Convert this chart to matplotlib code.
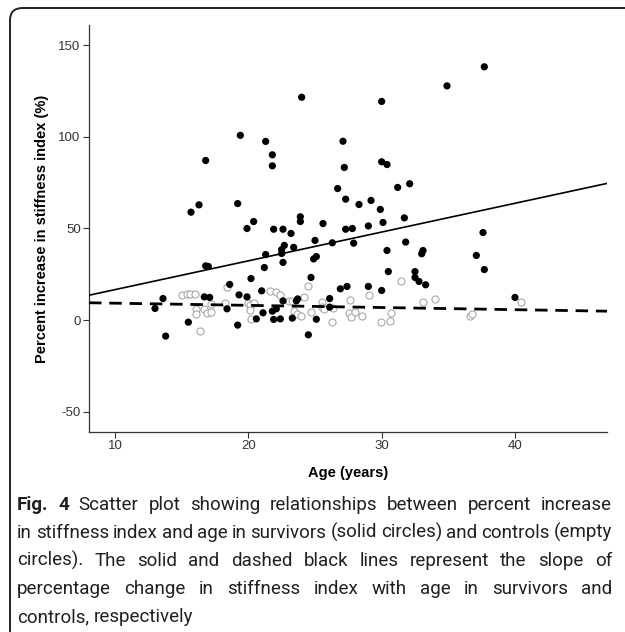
import numpy as np
import matplotlib
matplotlib.use('Agg')
import matplotlib.pyplot as plt
from matplotlib.patches import FancyBboxPatch

plt.rcParams['axes.unicode_minus'] = False

# survivors (solid circles): age, percent increase
surv_age = [24.0, 19.4, 21.3, 21.8, 21.8, 16.8, 16.3, 15.7, 19.2, 20.4,
            19.9, 21.9, 22.6, 23.2, 23.9, 23.9, 25.6, 25.0, 22.7, 37.7,
            34.9, 30.0, 27.1, 27.2, 30.0, 30.4, 26.7, 27.3, 28.3, 29.2,
            31.2, 32.1, 29.9, 27.3, 27.8, 29.0, 30.1, 31.7, 37.6, 26.3,
            27.9, 31.8, 30.4, 33.0, 33.1, 37.1, 37.7, 30.5, 32.5, 24.7,
            24.9, 25.1, 21.3, 21.2, 22.5, 22.5, 22.6, 23.4, 16.8, 17.0,
            20.2, 13.6, 13.0, 13.8, 15.5, 16.7, 17.1, 18.6, 18.4, 19.3,
            19.9, 19.2, 21.0, 21.1, 20.6, 21.8, 22.1, 21.9, 22.4, 22.6,
            23.3, 23.6, 23.7, 24.5, 25.1, 26.1, 26.1, 32.5, 32.8, 33.3,
            26.9, 27.4, 29.0, 30.0, 40.0]
surv_pct = [121.6, 100.8, 97.5, 90.2, 84.2, 87.1, 62.9, 58.9, 63.6, 53.8,
            50.0, 49.6, 49.6, 47.3, 56.4, 53.8, 52.7, 43.5, 40.8, 138.2,
            127.8, 119.3, 97.6, 83.3, 86.4, 84.9, 71.8, 66.0, 63.1, 65.3,
            72.4, 74.4, 60.4, 49.6, 50.0, 51.4, 53.3, 55.8, 47.8, 42.2,
            42.0, 42.6, 38.0, 36.2, 38.0, 35.3, 27.6, 26.5, 26.5, 23.3,
            33.4, 34.7, 35.8, 28.7, 38.5, 36.4, 31.5, 39.7, 29.6, 29.3,
            22.7, 11.8, 6.4, -8.7, -1.1, 12.7, 12.4, 19.5, 6.2, 13.8,
            12.7, -2.7, 16.0, 4.0, 0.7, 4.9, 6.2, 0.4, 0.7, 10.5,
            1.1, 10.5, 11.6, -8.0, 0.5, 11.8, 7.1, 23.3, 21.1, 19.3,
            17.1, 18.4, 18.4, 16.2, 12.4]

# controls (empty circles)
ctrl_age = [15.0, 15.4, 15.6, 16.0, 16.1, 16.1, 16.7, 16.9, 17.2, 16.4,
            17.2, 18.4, 18.25, 19.95, 20.1, 20.4, 20.1, 20.2, 21.6, 22.05,
            22.4, 23.05, 23.3, 24.15, 24.45, 23.4, 23.65, 23.95, 24.7, 25.5,
            25.55, 25.7, 26.3, 26.33, 27.63, 27.53, 27.68, 28.03, 28.53, 29.03,
            29.98, 30.63, 30.73, 31.43, 33.13, 34.03, 36.63, 36.8, 40.45]
ctrl_pct = [13.5, 14.5, 14.5, 14.2, 6.2, 3.3, 6.2, 4.0, 4.2, -5.7,
            9.0, 18.2, 9.5, 9.1, 8.0, 9.1, 5.8, 0.7, 16.0, 15.3,
            13.5, 10.7, 10.2, 12.4, 18.9, 4.9, 3.6, 2.2, 4.4, 9.7,
            7.3, 6.0, -0.9, 6.9, 10.9, 4.0, 1.5, 4.7, 2.5, 13.5,
            -1.1, -0.4, 4.0, 21.1, 9.7, 11.3, 2.2, 3.3, 9.7]

# regression lines (intercept, slope)
surv_fit = (0.96, 1.57)
ctrl_fit = (10.44, -0.118)

caption = [
    "Fig. 4 Scatter plot showing relationships between percent increase",
    "in stiffness index and age in survivors (solid circles) and controls (empty",
    "circles). The solid and dashed black lines represent the slope of",
    "percentage change in stiffness index with age in survivors and",
    "controls, respectively",
]

W, H = 625, 632
fig = plt.figure(figsize=(W / 100, H / 100), dpi=100)
ax = fig.add_axes([89 / W, 1 - 432 / H, (607 - 89) / W, (432 - 25) / H])

xlim = (8.05, 46.9)
ylim = (-61, 161)

xs = np.array(xlim)
ax.plot(xs, surv_fit[0] + surv_fit[1] * xs, color='black', lw=1.2, zorder=3)
ax.plot(xs, ctrl_fit[0] + ctrl_fit[1] * xs, color='black', lw=2.0,
        dashes=(4.5, 2.8), zorder=3)

ax.scatter(ctrl_age, ctrl_pct, s=26, facecolors='white', edgecolors='#a8a8a8',
           linewidths=0.8, zorder=2)
ax.scatter(surv_age, surv_pct, s=27, color='black', edgecolors='none', zorder=4)

ax.set_xlim(*xlim)
ax.set_ylim(*ylim)
ax.set_xticks([10, 20, 30, 40])
ax.set_yticks([-50, 0, 50, 100, 150])
for s in ['top', 'right']:
    ax.spines[s].set_visible(False)
for s in ['left', 'bottom']:
    ax.spines[s].set_color('#333333')
    ax.spines[s].set_linewidth(0.9)
ax.tick_params(direction='out', length=4, width=0.8, color='#333333',
               labelsize=9.5, labelcolor='#333333', pad=2)
for lab in ax.get_xticklabels() + ax.get_yticklabels():
    lab.set_family('Liberation Sans')

ax.set_xlabel('Age (years)', fontsize=10.5, fontweight='bold',
              family='Liberation Sans', labelpad=10)
ax.set_ylabel('Percent increase in stiffness index (%)', fontsize=10.5,
              fontweight='bold', family='Liberation Sans', labelpad=7)

# rounded frame round the figure, running off the right and bottom edges
frame = FancyBboxPatch((10 / W, -30 / H), 700 / W, (H - 8 + 30) / H,
                       boxstyle='round,pad=0,rounding_size=0.02',
                       transform=fig.transFigure, fill=False,
                       edgecolor='#222222', lw=1.4, clip_on=False)
fig.patches.append(frame)

# justified caption
renderer = fig.canvas.get_renderer()
x0, x1 = 17, 612
baselines = [510, 538, 566, 594, 622]
cap_font = ['Roboto', 'DejaVu Sans']
cap_size = 13.5


def make_words(size):
    rows = []
    for i, line in enumerate(caption):
        texts = []
        for j, w in enumerate(line.split()):
            bold = (i == 0 and j < 2)
            t = fig.text(0, 1 - baselines[i] / H, w, fontsize=size,
                         family=cap_font, fontweight='bold' if bold else 'normal',
                         color='#231f20', ha='left', va='baseline')
            texts.append(t)
        rows.append(texts)
    return rows


# shrink the caption until every justified line keeps at least a narrow space
while True:
    rows = make_words(cap_size)
    space = 0.25 * cap_size * 100 / 72
    ok = True
    for texts in rows[:-1]:
        widths = [t.get_window_extent(renderer).width for t in texts]
        if (x1 - x0 - sum(widths)) / (len(texts) - 1) < 0.17 * cap_size * 100 / 72:
            ok = False
    if ok:
        break
    for texts in rows:
        for t in texts:
            t.remove()
    cap_size -= 0.25

for i, texts in enumerate(rows):
    widths = [t.get_window_extent(renderer).width for t in texts]
    if i < len(rows) - 1:
        gap = (x1 - x0 - sum(widths)) / (len(texts) - 1)
    else:
        gap = space
    x = x0
    for t, w in zip(texts, widths):
        t.set_x(x / W)
        x += w + gap

fig.savefig('out.png', dpi=100)
